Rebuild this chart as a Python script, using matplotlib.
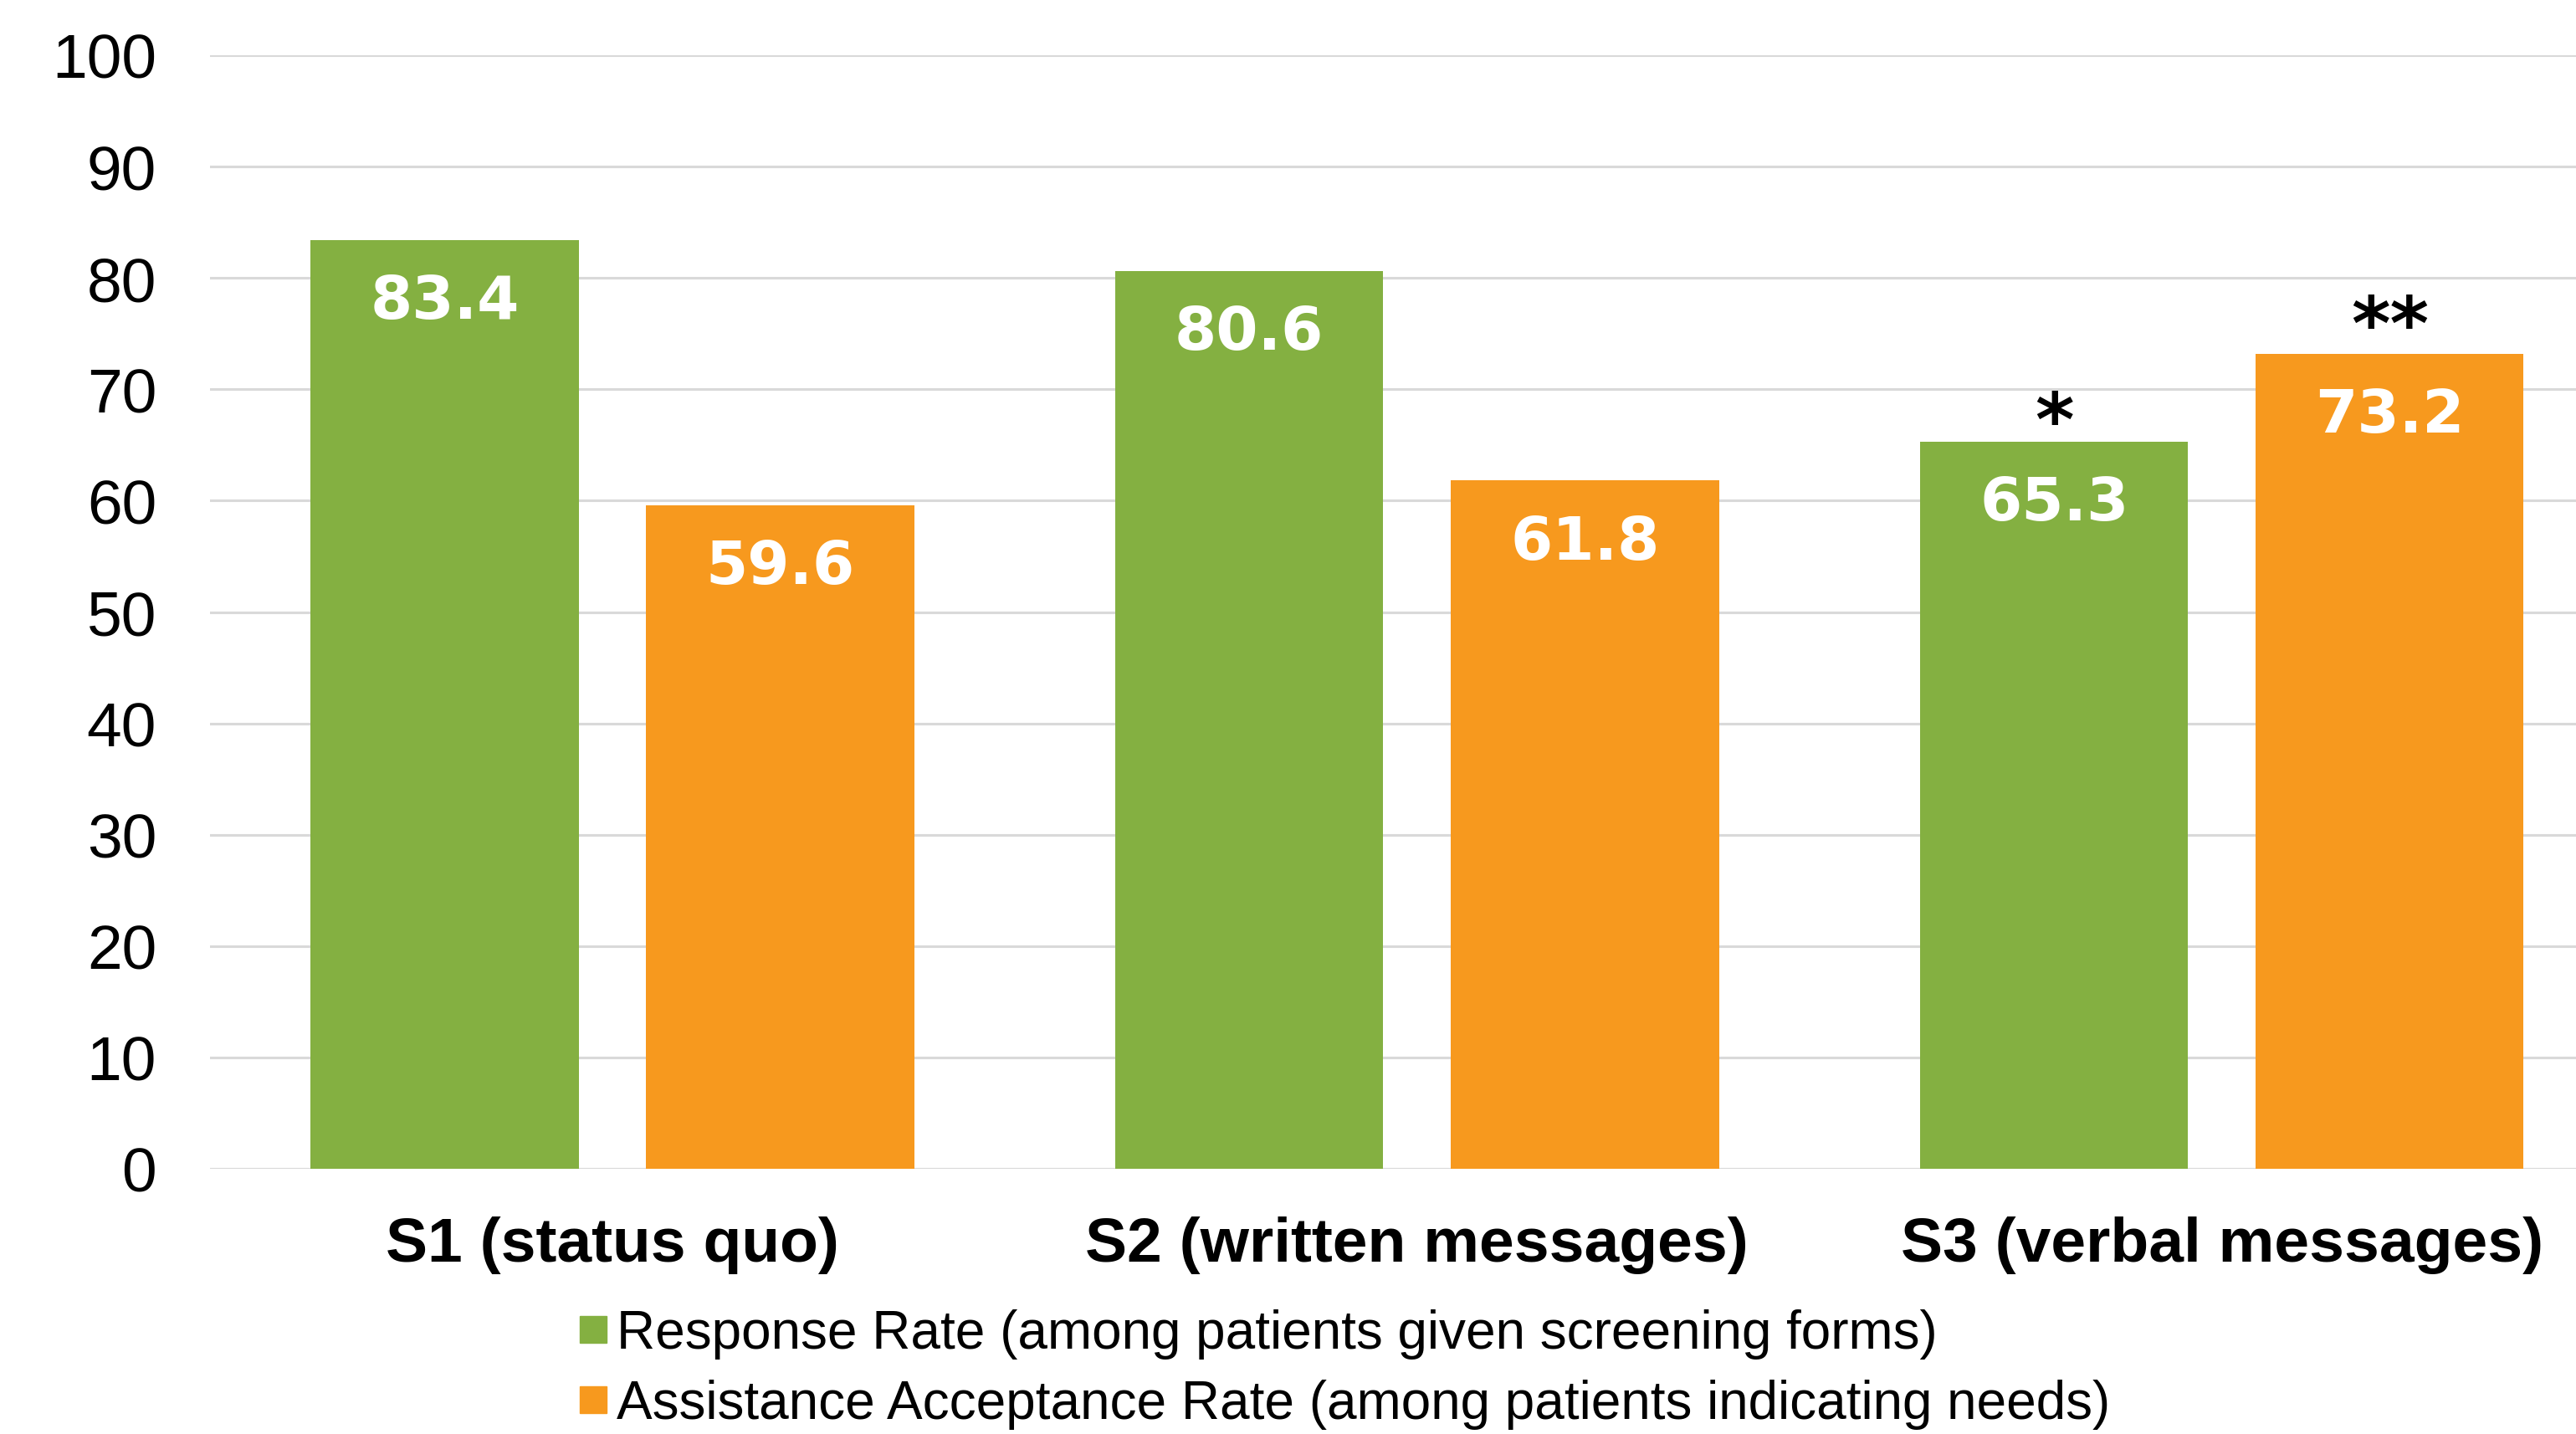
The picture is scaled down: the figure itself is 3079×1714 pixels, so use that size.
import matplotlib
matplotlib.use("Agg")
import matplotlib.pyplot as plt
from matplotlib.lines import Line2D
import numpy as np

categories = ["S1 (status quo)", "S2 (written messages)", "S3 (verbal messages)"]
response_rate = [83.4, 80.6, 65.3]
acceptance_rate = [59.6, 61.8, 73.2]
response_marks = ["", "", "*"]
acceptance_marks = ["", "", "**"]
series_names = ["Response Rate (among patients given screening forms)",
                "Assistance Acceptance Rate (among patients indicating needs)"]
yticks = [0, 10, 20, 30, 40, 50, 60, 70, 80, 90, 100]

GREEN = "#84B041"
ORANGE = "#F7991E"

plt.rcParams['font.family'] = ['Liberation Sans', 'DejaVu Sans']

fig = plt.figure(figsize=(30.79, 17.15), dpi=100)
ax = fig.add_axes([251/3079, 1 - 1398/1715, 1 - 251/3079, (1398 - 67)/1715])

x = np.arange(len(categories))
w = 0.333
off = 0.2085
b1 = ax.bar(x - off, response_rate, w, color=GREEN, zorder=3)
b2 = ax.bar(x + off, acceptance_rate, w, color=ORANGE, zorder=3)

for bars, vals, marks, moff in ((b1, response_rate, response_marks, -3),
                                (b2, acceptance_rate, acceptance_marks, 4)):
    for r, v, m in zip(bars, vals, marks):
        cx = r.get_x() + r.get_width() / 2
        ax.annotate(f"{v:.1f}", (cx, v), xytext=(0, -53), textcoords="offset points",
                    ha="center", va="center", color="white", fontsize=52, fontweight="bold",
                    family="DejaVu Sans", zorder=4)
        if m:
            ax.annotate(m, (cx, v), xytext=(0, moff), textcoords="offset points",
                        ha="center", va="baseline", color="black", fontsize=64,
                        fontweight="bold", family="DejaVu Sans", zorder=4)

ax.set_ylim(0, 100)
ax.set_xlim(-0.5, 2.44)
ax.set_yticks(yticks)
ax.set_xticks(x)
ax.set_xticklabels(categories, fontsize=54, fontweight="bold")
ax.tick_params(axis="y", labelsize=54, length=0, pad=46)
ax.tick_params(axis="x", length=0, pad=40)
ax.grid(axis="y", color="#D9D9D9", linewidth=2.2, zorder=0)
for s in ax.spines.values():
    s.set_visible(False)
ax.axhline(0, color="#D9D9D9", linewidth=2.2, zorder=2)

handles = [Line2D([], [], marker="s", linestyle="none", markersize=23, color=GREEN),
           Line2D([], [], marker="s", linestyle="none", markersize=23, color=ORANGE)]
fig.legend(handles, series_names, loc="upper left", bbox_to_anchor=(651/3079, 1 - 1533/1715),
           frameon=False, fontsize=46, handletextpad=0.05, labelspacing=0.38,
           borderpad=0, handlelength=0.8)

fig.savefig("out.png", dpi=100)
